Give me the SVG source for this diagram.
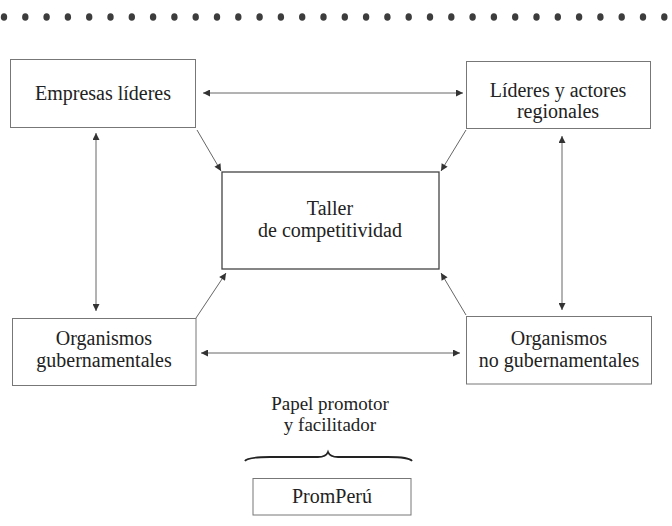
<svg xmlns="http://www.w3.org/2000/svg" width="672" height="526" viewBox="0 0 672 526">
<defs>
<style>
.bx{fill:#fff;stroke:#777;stroke-width:1}
.bx2{fill:#fff;stroke:#444;stroke-width:1.3}
.t{font-family:'Liberation Serif','DejaVu Serif','Times New Roman',serif;font-size:20px;fill:#222;text-anchor:middle}
.c{fill:none;stroke:#666;stroke-width:1}
.dot{fill:#3d3d3d}
</style>
<marker id="ah" viewBox="0 0 10 10" refX="10" refY="5" markerWidth="9" markerHeight="7" markerUnits="userSpaceOnUse" orient="auto-start-reverse">
<path d="M0,0 L10,5 L0,10 Z" fill="#333"/>
</marker>
</defs>
<g id="dots">
<ellipse class="dot" cx="4" cy="17" rx="3.2" ry="3.8"/>
<ellipse class="dot" cx="25.3" cy="17" rx="3.2" ry="3.8"/>
<ellipse class="dot" cx="46.6" cy="17" rx="3.2" ry="3.8"/>
<ellipse class="dot" cx="67.9" cy="17" rx="3.2" ry="3.8"/>
<ellipse class="dot" cx="89.2" cy="17" rx="3.2" ry="3.8"/>
<ellipse class="dot" cx="110.5" cy="17" rx="3.2" ry="3.8"/>
<ellipse class="dot" cx="131.8" cy="17" rx="3.2" ry="3.8"/>
<ellipse class="dot" cx="153.1" cy="17" rx="3.2" ry="3.8"/>
<ellipse class="dot" cx="174.4" cy="17" rx="3.2" ry="3.8"/>
<ellipse class="dot" cx="195.7" cy="17" rx="3.2" ry="3.8"/>
<ellipse class="dot" cx="217" cy="17" rx="3.2" ry="3.8"/>
<ellipse class="dot" cx="238.3" cy="17" rx="3.2" ry="3.8"/>
<ellipse class="dot" cx="259.6" cy="17" rx="3.2" ry="3.8"/>
<ellipse class="dot" cx="280.9" cy="17" rx="3.2" ry="3.8"/>
<ellipse class="dot" cx="302.2" cy="17" rx="3.2" ry="3.8"/>
<ellipse class="dot" cx="323.5" cy="17" rx="3.2" ry="3.8"/>
<ellipse class="dot" cx="344.8" cy="17" rx="3.2" ry="3.8"/>
<ellipse class="dot" cx="366.1" cy="17" rx="3.2" ry="3.8"/>
<ellipse class="dot" cx="387.4" cy="17" rx="3.2" ry="3.8"/>
<ellipse class="dot" cx="408.7" cy="17" rx="3.2" ry="3.8"/>
<ellipse class="dot" cx="430" cy="17" rx="3.2" ry="3.8"/>
<ellipse class="dot" cx="451.3" cy="17" rx="3.2" ry="3.8"/>
<ellipse class="dot" cx="472.6" cy="17" rx="3.2" ry="3.8"/>
<ellipse class="dot" cx="493.9" cy="17" rx="3.2" ry="3.8"/>
<ellipse class="dot" cx="515.2" cy="17" rx="3.2" ry="3.8"/>
<ellipse class="dot" cx="536.5" cy="17" rx="3.2" ry="3.8"/>
<ellipse class="dot" cx="557.8" cy="17" rx="3.2" ry="3.8"/>
<ellipse class="dot" cx="579.1" cy="17" rx="3.2" ry="3.8"/>
<ellipse class="dot" cx="600.4" cy="17" rx="3.2" ry="3.8"/>
<ellipse class="dot" cx="621.7" cy="17" rx="3.2" ry="3.8"/>
<ellipse class="dot" cx="643" cy="17" rx="3.2" ry="3.8"/>
<ellipse class="dot" cx="664.3" cy="17" rx="3.2" ry="3.8"/>
</g>
<g id="connectors">
<line class="c" x1="203" y1="93" x2="463" y2="93" marker-start="url(#ah)" marker-end="url(#ah)"/>
<line class="c" x1="201" y1="353" x2="460" y2="353" marker-start="url(#ah)" marker-end="url(#ah)"/>
<line class="c" x1="96" y1="133" x2="96" y2="311" marker-start="url(#ah)" marker-end="url(#ah)"/>
<line class="c" x1="562" y1="136" x2="562" y2="310" marker-start="url(#ah)" marker-end="url(#ah)"/>
<line class="c" x1="197" y1="130" x2="221" y2="171" marker-end="url(#ah)"/>
<line class="c" x1="466" y1="130" x2="441" y2="171" marker-end="url(#ah)"/>
<line class="c" x1="196" y1="318" x2="226" y2="273" marker-end="url(#ah)"/>
<line class="c" x1="466" y1="315" x2="441" y2="273" marker-end="url(#ah)"/>
</g>
<g id="empresas">
<rect class="bx" x="10.5" y="59.5" width="185" height="68"/>
<text class="t" x="103" y="100">Empresas líderes</text>
</g>
<g id="lideres">
<rect class="bx" x="466.5" y="61.5" width="184" height="67"/>
<text class="t" x="558" y="97">Líderes y actores</text>
<text class="t" x="558" y="118">regionales</text>
</g>
<g id="taller">
<rect class="bx2" x="222" y="172" width="217" height="97"/>
<text class="t" x="330" y="215">Taller</text>
<text class="t" x="330" y="237">de competitividad</text>
</g>
<g id="gubernamentales">
<rect class="bx" x="12.5" y="318.5" width="183.5" height="67"/>
<text class="t" x="104" y="345">Organismos</text>
<text class="t" x="104" y="367">gubernamentales</text>
</g>
<g id="nogubernamentales">
<rect class="bx" x="466.5" y="316.5" width="185" height="67.5"/>
<text class="t" x="559" y="345">Organismos</text>
<text class="t" x="559" y="367">no gubernamentales</text>
</g>
<g id="papel">
<text class="t" x="330" y="410" style="font-size:19px">Papel promotor</text>
<text class="t" x="330" y="431" style="font-size:19px">y facilitador</text>
<path d="M245,461 Q247,457 270,457 L318,457 Q326,457 328,452 Q330,457 338,457 L388,457 Q409,457 412,461" fill="none" stroke="#222" stroke-width="1.8"/>
</g>
<g id="promperu">
<rect class="bx" x="253" y="478.5" width="158" height="36.5"/>
<text class="t" x="332" y="503">PromPerú</text>
</g>
</svg>
